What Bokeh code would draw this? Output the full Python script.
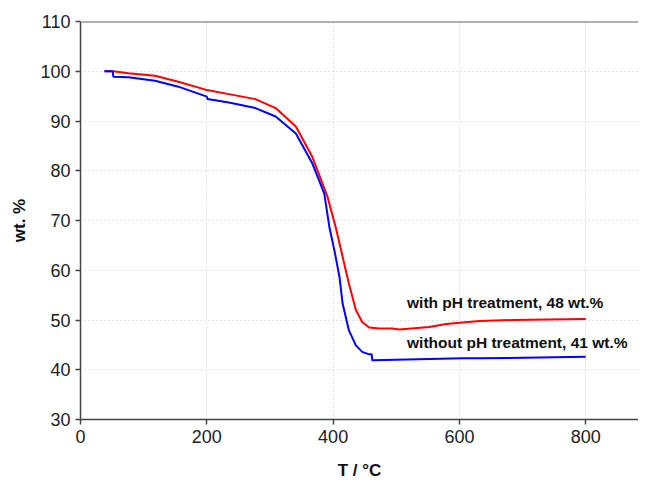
from bokeh.plotting import figure
from bokeh.models import Range1d, FixedTicker, Span, ColumnDataSource
from bokeh.core.properties import value
from bokeh.embed import file_html
from bokeh.resources import INLINE

# TGA data
red_T = [38, 52, 76, 118, 155, 198, 235, 277, 309, 341, 367, 391, 404, 415, 425, 436, 446, 457, 473, 494, 505, 552, 579, 605, 632, 685, 740, 800]
red_wt = [100, 100, 99.6, 99.1, 97.9, 96.3, 95.4, 94.4, 92.6, 88.9, 82.8, 74.8, 68.7, 62.7, 57.3, 52.0, 49.6, 48.5, 48.3, 48.3, 48.1, 48.6, 49.2, 49.5, 49.8, 50.0, 50.1, 50.2]

blue_T = [38, 51, 52, 76, 118, 155, 200, 201, 235, 277, 309, 341, 367, 386, 394, 402, 410, 415, 425, 436, 446, 457, 461, 462, 500, 605, 632, 800]
blue_wt = [100, 100, 98.9, 98.8, 98.1, 96.9, 94.9, 94.4, 93.7, 92.6, 90.9, 87.5, 81.5, 75.4, 68.7, 64.0, 58.7, 53.3, 47.9, 44.9, 43.6, 43.1, 43.1, 41.9, 42.0, 42.3, 42.3, 42.6]

x_ticks = [0, 200, 400, 600, 800]
y_ticks = [30, 40, 50, 60, 70, 80, 90, 100, 110]

annot_x = [517, 517]
annot_y = [53.6, 45.4]
annot_text = ["with pH treatment, 48 wt.%", "without pH treatment, 41 wt.%"]

FONT = "Liberation Sans"

p = figure(width=638, height=485, output_backend="svg", toolbar_location=None,
           x_range=Range1d(0, 883.5), y_range=Range1d(30, 110),
           min_border_left=80, min_border_right=0, min_border_top=21, min_border_bottom=66)
p.outline_line_color = None
p.background_fill_color = "white"
p.border_fill_color = "white"

for ax in (p.xaxis[0], p.yaxis[0]):
    ax.axis_line_color = "#444444"
    ax.axis_line_width = 1.5
    ax.major_tick_line_color = "#444444"
    ax.major_tick_line_width = 1.5
    ax.major_tick_out = 5
    ax.major_tick_in = 0
    ax.minor_tick_line_color = None
    ax.major_label_text_font = FONT
    ax.major_label_text_font_size = "18px"
    ax.major_label_text_color = "#222222"
    ax.axis_label_text_font = FONT
    ax.axis_label_text_font_size = "17px"
    ax.axis_label_text_font_style = "bold"
    ax.axis_label_text_color = "#111111"

p.xaxis.ticker = FixedTicker(ticks=x_ticks)
p.yaxis.ticker = FixedTicker(ticks=y_ticks)
p.xaxis.axis_label = "T / °C"
p.yaxis.axis_label = "wt. %"
p.xaxis.major_label_standoff = 5
p.yaxis.major_label_standoff = 5
p.xaxis.axis_label_standoff = 15
p.yaxis.axis_label_standoff = 8

p.xgrid.ticker = FixedTicker(ticks=[200, 400, 600, 800])
p.ygrid.ticker = FixedTicker(ticks=[40, 50, 60, 70, 80, 90, 100])
for g in (p.xgrid[0], p.ygrid[0]):
    g.grid_line_color = "#c8c8c8"
    g.grid_line_dash = "1 3"
    g.grid_line_width = 1

p.add_layout(Span(location=110, dimension="width", line_color="#666666", line_width=2))

p.line(red_T, red_wt, line_color="#ff0000", line_width=2)
p.line(blue_T, blue_wt, line_color="#0000ff", line_width=2)

src = ColumnDataSource(dict(x=annot_x, y=annot_y, t=annot_text))
p.text(x="x", y="y", text="t", source=src, text_font=value(FONT), text_font_size="15.5px",
       text_font_style="bold", text_color="#111111", text_baseline="middle", text_align="left")

open("out.html", "w").write(file_html(p, INLINE))
